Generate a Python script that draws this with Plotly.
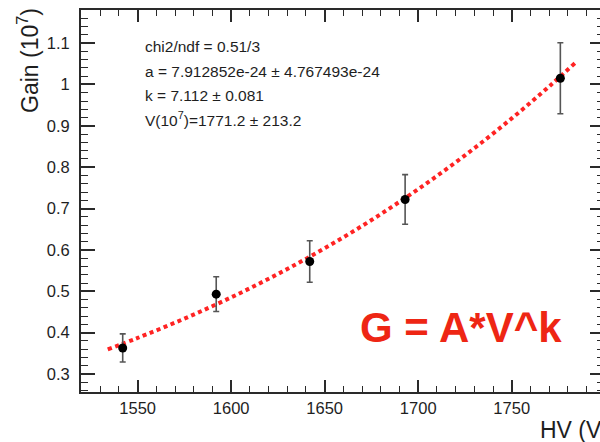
import plotly.graph_objects as go

# measured points
hv = [1542, 1592, 1642, 1693, 1776]
gain = [0.363, 0.493, 0.572, 0.722, 1.015]
gain_err = [0.034, 0.042, 0.050, 0.060, 0.086]

# fit curve G = A*V^k
fit_hv = [1534, 1550, 1575, 1600, 1625, 1650, 1675, 1700, 1725, 1750, 1771.2, 1784]
fit_gain = [0.3597, 0.3872, 0.4339, 0.4853, 0.5419, 0.6040, 0.6722, 0.7469, 0.8286, 0.9179, 1.0, 1.0525]

stats_lines = [
    "chi2/ndf = 0.51/3",
    "a = 7.912852e-24 \u00b1 4.767493e-24",
    "k = 7.112 \u00b1 0.081",
    "V(10<sup>7</sup>)=1771.2 \u00b1 213.2",
]

W, H = 600, 442
L, T, B, R = 81, 10, 50, 0
XR = [1519.7, 1797.2]
YR = [0.2565, 1.18]

def px(xp):
    return (xp - L) / (W - L - R)

def py(yp):
    return (H - B - yp) / (H - B - T)

FONT = "Liberation Sans, Arial, sans-serif"
TXT = "#1e1e1e"
AX = "#2a2a2a"

fig = go.Figure()
fig.add_trace(go.Scatter(
    x=fit_hv, y=fit_gain, mode="lines", line_shape="spline",
    line=dict(color="rgb(255,35,35)", width=4, dash="4px,3.5px"),
    hoverinfo="skip", showlegend=False))
fig.add_trace(go.Scatter(
    x=hv, y=gain, mode="markers",
    marker=dict(color="black", size=9),
    error_y=dict(type="data", array=gain_err, color="#555555", thickness=1.6, width=3),
    showlegend=False))
# helper trace for right-side tick axis
fig.add_trace(go.Scatter(x=hv, y=gain, yaxis="y2", mode="lines",
                         line=dict(color="rgba(0,0,0,0)"), hoverinfo="skip", showlegend=False))

tickfont = dict(family=FONT, size=16.5, color=TXT)

fig.update_layout(
    width=W, height=H,
    margin=dict(l=L, r=R, t=T, b=B, pad=0),
    paper_bgcolor="white", plot_bgcolor="white",
    xaxis=dict(range=XR, showgrid=False, zeroline=False,
               showline=True, linecolor=AX, linewidth=2, mirror="ticks",
               ticks="inside", ticklen=12, tickwidth=1.5, tickcolor=AX,
               tick0=1550, dtick=50, tickfont=tickfont,
               minor=dict(dtick=10, ticks="inside", ticklen=6, tickwidth=1.3, tickcolor=AX, showgrid=False)),
    yaxis=dict(range=YR, showgrid=False, zeroline=False,
               showline=True, linecolor=AX, linewidth=2,
               ticks="inside", ticklen=14, tickwidth=1.5, tickcolor=AX,
               tick0=0.3, dtick=0.1, tickfont=tickfont,
               tickvals=[0.3, 0.4, 0.5, 0.6, 0.7, 0.8, 0.9, 1.0, 1.1],
               ticktext=["0.3", "0.4", "0.5", "0.6", "0.7", "0.8", "0.9", "1", "1.1"],
               ticklabelstandoff=6,
               minor=dict(tick0=0.3, dtick=0.02, ticks="inside", ticklen=7, tickwidth=1.3, tickcolor=AX, showgrid=False)),
    yaxis2=dict(range=YR, overlaying="y", side="right", showgrid=False, zeroline=False,
                showline=False, showticklabels=False,
                ticks="inside", ticklen=10, tickwidth=1.5, tickcolor=AX,
                tick0=0.3, dtick=0.1,
                minor=dict(tick0=0.3, dtick=0.02, ticks="inside", ticklen=3, tickwidth=1.3, tickcolor=AX, showgrid=False)),
)

ann = []
ann.append(dict(text="Gain (10<sup>7</sup>)", x=px(28), y=py(61), xref="paper", yref="paper",
                textangle=-90, showarrow=False, xanchor="center", yanchor="middle",
                font=dict(family=FONT, size=23, color=TXT)))
ann.append(dict(text="HV (V)", x=px(538), y=py(430), xref="paper", yref="paper",
                showarrow=False, xanchor="left", yanchor="middle",
                font=dict(family=FONT, size=23, color=TXT)))
for i, (line, yy) in enumerate(zip(stats_lines, [46.7, 71, 95.7, 119])):
    ann.append(dict(text=line, x=px(143), y=py(yy), xref="paper", yref="paper",
                    showarrow=False, xanchor="left", yanchor="middle",
                    font=dict(family=FONT, size=15.5, color=TXT)))
ann.append(dict(text="<b>G = A*V^k</b>", x=px(461), y=py(327), xref="paper", yref="paper",
                showarrow=False, xanchor="center", yanchor="middle",
                font=dict(family=FONT, size=42, color="rgb(238,38,20)")))
fig.update_layout(annotations=ann)

fig.write_html("out.html")
